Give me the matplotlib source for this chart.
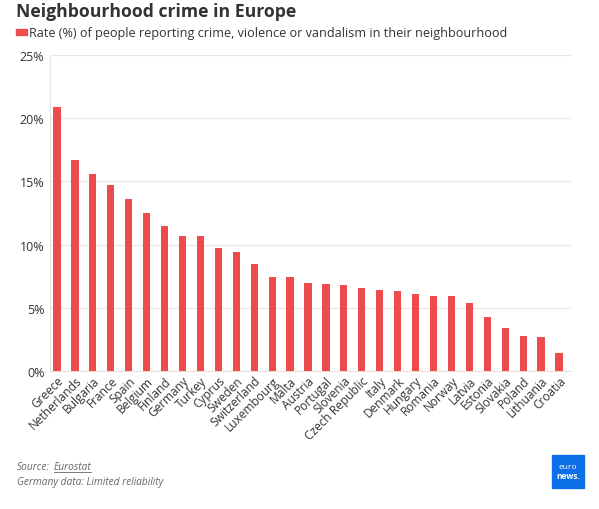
import numpy as np
import matplotlib.pyplot as plt
from matplotlib.patches import Rectangle

plt.rcParams['font.family'] = ['Open Sans', 'DejaVu Sans']

countries = ['Greece', 'Netherlands', 'Bulgaria', 'France', 'Spain', 'Belgium',
             'Finland', 'Germany', 'Turkey', 'Cyprus', 'Sweden', 'Switzerland',
             'Luxembourg', 'Malta', 'Austria', 'Portugal', 'Slovenia',
             'Czech Republic', 'Italy', 'Denmark', 'Hungary', 'Romania', 'Norway',
             'Latvia', 'Estonia', 'Slovakia', 'Poland', 'Lithuania', 'Croatia']
rates = [20.9, 16.7, 15.6, 14.7, 13.6, 12.5, 11.5, 10.7, 10.7, 9.7, 9.4, 8.5,
         7.4, 7.4, 7.0, 6.9, 6.8, 6.6, 6.4, 6.3, 6.1, 5.9, 5.9, 5.4, 4.3, 3.4,
         2.8, 2.7, 1.4]
yticks = [0, 5, 10, 15, 20, 25]

red = '#ee4b4d'

fig = plt.figure(figsize=(5.99, 5.10), dpi=100)
ax = fig.add_axes([50/599, 1-372/510, (571-50)/599, (372-56)/510])

x = np.arange(len(countries))
ax.bar(x, rates, width=0.4, color=red, zorder=3)

ax.set_xlim(-0.39, len(countries) - 1 + 0.67)
ax.set_ylim(0, 25)
ax.set_yticks(yticks)
ax.set_yticklabels([f'{v}%' for v in yticks], fontsize=9, color='#333333')
ax.set_xticks(x)
ax.set_xticklabels(countries, rotation=45, ha='right', rotation_mode='anchor',
                   fontsize=8.6, color='#333333')
ax.tick_params(axis='both', length=0, pad=4)
ax.tick_params(axis='x', pad=2)

ax.grid(axis='y', color='#e6e6e6', lw=0.8, zorder=0)
for s in ['top', 'right']:
    ax.spines[s].set_visible(False)
ax.spines['left'].set_color('#e6e6e6')
ax.spines['bottom'].set_color('#f0dada')

# header
fig.text(16/599, 1-12/510, 'Neighbourhood crime in Europe', fontsize=12.7,
         fontweight='bold', color='#333333', va='center', ha='left')
fig.patches.append(Rectangle((16/599, 1-36/510), 11/599, 6/510,
                             transform=fig.transFigure, color=red))
fig.text(29/599, 1-33/510,
         'Rate (%) of people reporting crime, violence or vandalism in their neighbourhood',
         fontsize=9.1, color='#333333', va='center', ha='left')

# footer
fig.text(17/599, 1-468/510, 'Source:', fontsize=7.3, style='italic',
         color='#666666', va='center')
fig.text(54/599, 1-468/510, 'Eurostat', fontsize=7.3, style='italic',
         color='#666666', va='center')
fig.lines.append(plt.Line2D([54/599, 91/599], [1-473/510, 1-473/510],
                            transform=fig.transFigure, color='#666666', lw=0.6))
fig.text(17/599, 1-483/510, 'Germany data: Limited reliability', fontsize=7.3,
         style='italic', color='#666666', va='center')

# logo
fig.patches.append(Rectangle((552/599, 1-489/510), 32/599, 33/510,
                             transform=fig.transFigure, color='#0b6fe8'))
fig.text(568/599, 1-468/510, 'euro', fontsize=6, color='white', ha='center', va='center')
fig.text(568/599, 1-477/510, 'news.', fontsize=6, color='white', ha='center',
         va='center', fontweight='bold')

fig.savefig('out.png', dpi=100)
